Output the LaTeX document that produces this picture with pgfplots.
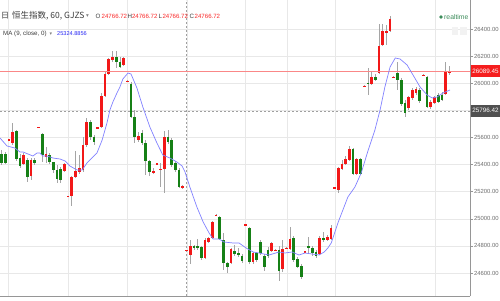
\documentclass[border=0pt]{standalone}
\usepackage{pgfplots}
\pgfplotsset{compat=1.18}
\usepackage{pgfplotstable}
\usepackage{fontspec}
\setmainfont{Liberation Sans}
\newfontfamily\cjk{Noto Sans CJK SC}
\newfontfamily\dejavu{DejaVu Sans}
\definecolor{upred}{RGB}{242,24,24}
\definecolor{dngreen}{RGB}{22,128,22}
\definecolor{wick}{RGB}{165,165,165}
\definecolor{malin}{RGB}{130,130,255}
\definecolor{gridc}{RGB}{232,232,232}
\definecolor{axc}{RGB}{150,150,150}
\definecolor{labc}{RGB}{110,110,110}
\definecolor{lineredc}{RGB}{250,135,135}
\definecolor{boxred}{RGB}{245,30,30}
\definecolor{boxdark}{RGB}{80,80,80}
\definecolor{rtgreen}{RGB}{60,140,90}
\definecolor{numred}{RGB}{250,40,40}
\definecolor{mablue}{RGB}{40,40,245}
\definecolor{hdr}{RGB}{60,60,60}

\pgfplotstableread{
x o h l c
2 25581 25590 25579 25588
3 25559 25707 25544 25640
6 25404 25485 25397 25470
8 25316 25448 25286 25434
10 25670 25679 25668 25677
12 25456 25530 25411 25478
17 25352 25411 25345 25404
18 25161 25170 25159 25168
19 25168 25316 25094 25308
20 25308 25500 25301 25352
21 25345 25470 25330 25375
22 25360 25603 25345 25544
23 25544 25743 25530 25714
26 25668 25679 25665 25676
27 25677 25928 25670 25906
28 25906 26083 25898 26068
29 26068 26186 26061 26179
30 26171 26238 26157 26193
33 26134 26193 26127 26186
34 26013 26024 26009 26020
37 25581 25640 25566 25611
41 25338 25375 25330 25352
42 25400 25411 25397 25408
43 25360 25411 25234 25367
44 25367 25648 25190 25603
49 25227 25249 25220 25242
50 24763 24772 24761 24770
51 24733 24843 24666 24799
55 24711 24858 24703 24843
56 24829 24866 24821 24858
57 24858 24984 24851 24976
58 25024 25034 25021 25031
62 24674 24784 24666 24777
66 24951 24961 24948 24958
68 24681 24755 24666 24748
73 24762 24829 24755 24821
74 24766 24776 24763 24773
76 24630 24843 24607 24777
77 24781 24791 24778 24788
78 24777 24939 24770 24851
82 24752 24762 24749 24759
86 24740 24873 24733 24858
88 24843 24880 24836 24866
89 24851 24954 24843 24932
90 25224 25234 25220 25231
91 25212 25382 25190 25375
92 25367 25434 25360 25404
93 25404 25463 25397 25441
94 25434 25537 25426 25515
96 25330 25448 25323 25441
98 25976 25986 25973 25983
100 25994 26083 25987 26046
102 26075 26437 26068 26275
103 26282 26437 26275 26385
104 26378 26430 26282 26385
105 26385 26496 26378 26474
106 26042 26053 26038 26049
110 25817 25906 25802 25898
111 25891 25965 25876 25950
112 25928 25972 25913 25957
114 26057 26068 26053 26064
116 25825 25876 25810 25861
117 25854 25906 25847 25898
120 25920 26157 25913 26083
121 26080 26127 26061 26089.45
}\upcandles

\pgfplotstableread{
x o h l c
0 25478 25507 25397 25411
1 25478 25493 25404 25411
4 25648 25655 25426 25441
5 25448 25478 25375 25389
7 25434 25448 25271 25308
9 25434 25448 25397 25411
11 25625 25630 25419 25470
13 25470 25485 25404 25419
14 25419 25422 25338 25360
15 25360 25397 25264 25293
16 25367 25382 25264 25286
24 25714 25729 25581 25603
25 25603 25618 25544 25566
31 26193 26238 26112 26157
32 26157 26193 26112 26120
35 25994 26009 25743 25751
36 25751 25802 25559 25603
38 25633 25655 25544 25559
39 25559 25581 25323 25426
40 25426 25434 25316 25345
45 25603 25655 25552 25566
46 25581 25596 25382 25397
47 25411 25426 25345 25360
48 25360 25375 25227 25234
52 24799 24807 24770 24792
53 24799 24851 24770 24784
54 24792 24799 24696 24711
59 25013 25020 24843 24851
60 24843 24895 24622 24674
61 24674 24681 24600 24644
63 24762 24807 24725 24740
64 24748 24784 24718 24733
65 24725 24740 24674 24689
67 24932 24939 24666 24681
69 24748 24755 24681 24696
70 24829 24843 24733 24748
71 24725 24740 24615 24644
72 24770 24792 24711 24725
75 24770 24799 24541 24615
79 24858 24873 24681 24696
80 24703 24718 24637 24644
81 24651 24666 24556 24570
83 24799 24866 24748 24784
84 24784 24799 24725 24748
85 24755 24770 24711 24725
87 24858 24902 24829 24843
95 25515 25522 25323 25330
97 25441 25448 25323 25330
99 26002 26112 25913 25994
101 26046 26068 26016 26024
107 26075 26157 25950 26024
108 26024 26039 25832 25847
109 25854 25876 25751 25780
113 25950 25965 25854 25869
115 26046 26053 25817 25825
118 25913 25928 25854 25861
119 25913 25935 25869 25876
}\downcandles

\pgfplotstableread{
x ma
-0.4 25595.9
1.5 25536.9
3.6 25522.1
5.0 25492.6
5.8 25492.6
8.5 25463.1
9.6 25485.2
10.4 25485.2
11.2 25463.1
12.3 25463.1
13.9 25448.3
15.8 25441.0
17.2 25426.2
18.5 25389.3
20.4 25359.8
21.8 25359.8
23.1 25411.5
25.8 25485.2
27.2 25581.1
28.5 25706.5
29.3 25802.4
30.1 25861.4
31.2 25927.9
32.0 25972.1
32.8 26031.1
34.2 26075.4
35.0 26068.0
36.6 25964.7
38.2 25824.6
40.1 25677.0
42.0 25559.0
43.6 25470.5
45.5 25448.3
47.4 25418.8
48.8 25389.3
49.6 25345.1
50.9 25234.4
52.8 25086.9
54.5 24976.2
56.1 24895.1
57.2 24850.8
58.8 24850.8
60.1 24828.7
62.6 24821.3
64.2 24821.3
66.1 24784.4
68.0 24754.9
69.6 24747.5
70.9 24740.2
72.3 24732.8
75.0 24754.9
76.6 24747.5
78.5 24754.9
80.4 24732.8
82.0 24747.5
83.9 24740.2
85.8 24732.8
87.2 24754.9
88.2 24784.4
89.1 24821.3
90.9 24968.8
93.6 25160.6
95.5 25234.4
97.2 25337.7
99.1 25507.4
100.9 25654.9
102.3 25802.4
103.6 25972.1
105.0 26119.6
106.4 26186.0
107.7 26178.7
109.6 26134.4
111.2 26060.6
113.1 25972.1
115.0 25913.1
116.4 25891.0
117.7 25898.3
119.3 25927.9
121.2 25950.0
}\matable

\pgfplotsset{
  candle/.style={draw=none, mark=none, forget plot,
    error bars/.cd, y dir=both, y explicit, error mark=none,
    error bar style={draw=#1, line width=2.7pt}},
  wickst/.style={draw=none, mark=none, forget plot,
    error bars/.cd, y dir=both, y explicit, error mark=none,
    error bar style={draw=wick, line width=0.7pt}},
}

\begin{document}
\begin{tikzpicture}[x=1pt,y=1pt]
\path[use as bounding box] (0,0) rectangle (500,300);
\fill[white] (0,0) rectangle (500,300);
\begin{axis}[
  at={(0pt,4pt)}, anchor=south west, scale only axis,
  width=470pt, height=296pt,
  xmin=-0.4, xmax=126.6, ymin=24430.3, ymax=26613.9,
  axis x line*=bottom, axis y line*=right,
  axis line style={draw=axc, line width=0.6pt},
  xtick={1.76,17.97,33.9,50.1,65.8,77.2,90.1,117.2}, xticklabels={},
  xmajorgrids, x tick style={draw=none},
  ytick={24600,24800,25000,25200,25400,25600,25800,26000,26200,26400},
  yticklabels={24600.00,24800.00,25000.00,25200.00,25400.00,25600.00,{},26000.00,26200.00,26400.00},
  ymajorgrids, grid style={draw=gridc, line width=0.5pt},
  y tick style={draw=axc, line width=0.5pt}, tick align=outside, major tick length=3pt,
  yticklabel style={font=\fontsize{5.9}{7}\selectfont, text=labc, inner sep=0.8pt},
  clip=false,
]
\addplot[gray!75, line width=0.5pt, dash pattern=on 2pt off 2pt] coordinates {(-0.4,25796.42) (126.6,25796.42)};
\addplot[gray!75, line width=0.5pt, dash pattern=on 2pt off 2pt] coordinates {(50,24430.3) (50,26613.9)};

\addplot[wickst] table[x=x, y expr={(\thisrow{h}+\thisrow{l})/2}, y error expr={(\thisrow{h}-\thisrow{l})/2}] {\upcandles};
\addplot[wickst] table[x=x, y expr={(\thisrow{h}+\thisrow{l})/2}, y error expr={(\thisrow{h}-\thisrow{l})/2}] {\downcandles};
\addplot[candle=upred] table[x=x, y expr={(\thisrow{o}+\thisrow{c})/2}, y error expr={abs(\thisrow{c}-\thisrow{o})/2}] {\upcandles};
\addplot[candle=dngreen] table[x=x, y expr={(\thisrow{o}+\thisrow{c})/2}, y error expr={abs(\thisrow{o}-\thisrow{c})/2}] {\downcandles};

\draw[color=lineredc, line width=0.9pt] (axis cs:-0.4,26089.45) -- (axis cs:126.6,26089.45);

\addplot[malin, line width=0.7pt, mark=none] table[x=x, y=ma] {\matable};

\node[anchor=west, fill=boxred, text=white, inner sep=0pt, minimum width=29.5pt, minimum height=11.5pt,
  font=\fontsize{6.3}{7}\selectfont] at (axis cs:126.75,26089.45) {26089.45};
\node[anchor=west, fill=boxdark, text=white, inner sep=0pt, minimum width=29.5pt, minimum height=11.5pt,
  font=\fontsize{6.3}{7}\selectfont] at (axis cs:126.75,25796.42) {25796.42};
\end{axis}

% header
\node[anchor=west, inner sep=0pt, text=hdr] at (1,284) {\cjk\fontsize{8}{8}\selectfont 日};
\node[anchor=west, inner sep=0pt, text=hdr] at (12,284) {\cjk\fontsize{8.5}{9}\selectfont 恒生指数, 60, GJZS};
\node[anchor=west, inner sep=0pt, text=gray] at (86,284) {\dejavu\fontsize{5.5}{6}\selectfont ▾};
\node[anchor=west, inner sep=0pt, text=hdr] at (95.5,284) {\fontsize{6.2}{7}\selectfont O};
\node[anchor=west, inner sep=0pt, text=numred] at (101.5,284) {\fontsize{6.1}{7}\selectfont 24766.72};
\node[anchor=west, inner sep=0pt, text=hdr] at (127.5,284) {\fontsize{6.2}{7}\selectfont H};
\node[anchor=west, inner sep=0pt, text=numred] at (131.8,284) {\fontsize{6.1}{7}\selectfont 24766.72};
\node[anchor=west, inner sep=0pt, text=hdr] at (158.5,284) {\fontsize{6.2}{7}\selectfont L};
\node[anchor=west, inner sep=0pt, text=numred] at (162.3,284) {\fontsize{6.1}{7}\selectfont 24766.72};
\node[anchor=west, inner sep=0pt, text=hdr] at (189.5,284) {\fontsize{6.2}{7}\selectfont C};
\node[anchor=west, inner sep=0pt, text=numred] at (194.5,284) {\fontsize{6.1}{7}\selectfont 24766.72};
\node[anchor=west, inner sep=0pt, text=hdr] at (3,266) {\fontsize{6.2}{7}\selectfont MA (9, close, 0)};
\node[anchor=west, inner sep=0pt, text=gray] at (49.5,266) {\dejavu\fontsize{5}{6}\selectfont ▾};
\node[anchor=west, inner sep=0pt, text=mablue] at (57,266) {\fontsize{5.6}{7}\selectfont 25324.8856};
% realtime
\fill[rtgreen] (441,283) circle (1.9);
\node[anchor=west, inner sep=0pt, text=rtgreen] at (444,283) {\fontsize{6.8}{7}\selectfont realtime};
\fill[gray!10] (452,265) rectangle (458,273);
\fill[gray!10] (460,265) rectangle (467,273);
\end{tikzpicture}
\end{document}
